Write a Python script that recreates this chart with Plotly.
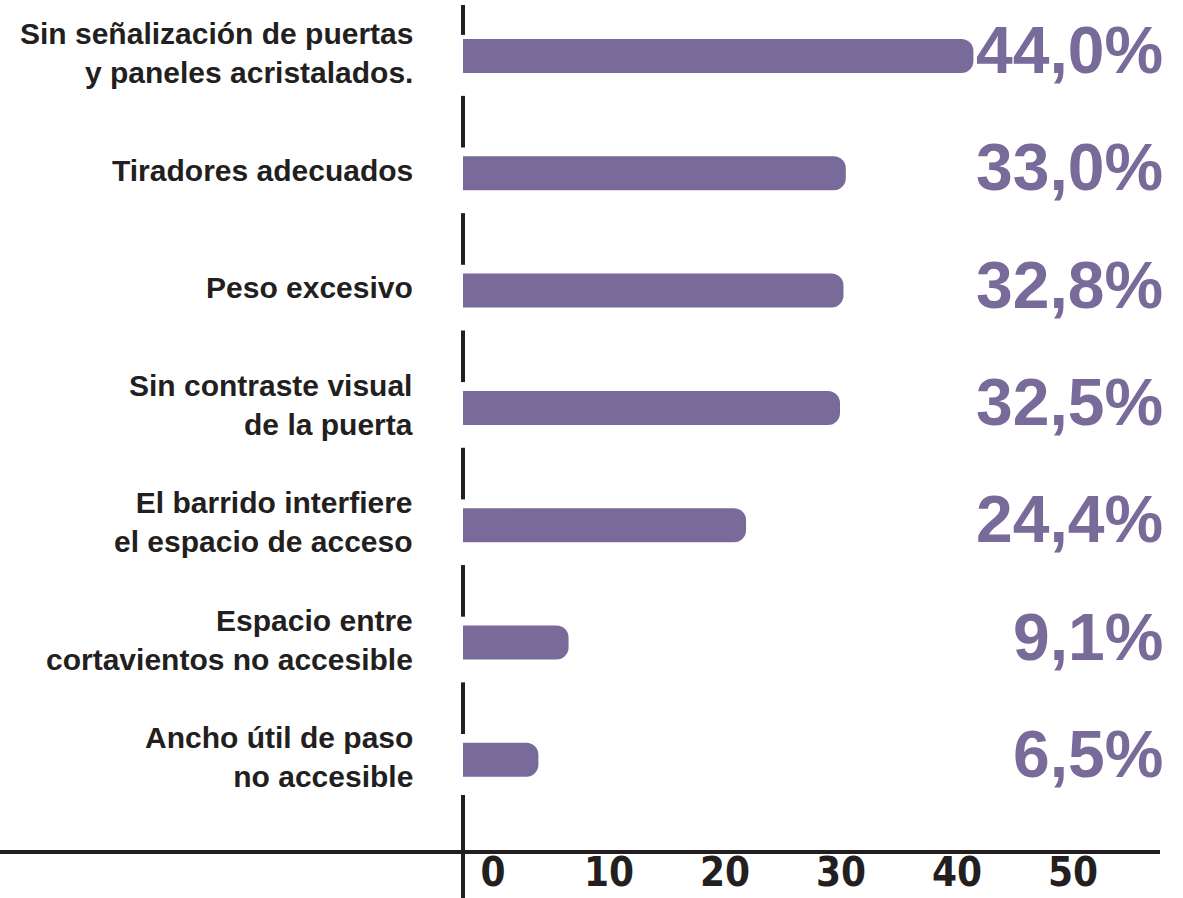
import plotly.graph_objects as go

# Survey results: share of respondents reporting each door accessibility issue
categories = [
    "Sin señalización de puertas<br>y paneles acristalados.",
    "Tiradores adecuados",
    "Peso excesivo",
    "Sin contraste visual<br>de la puerta",
    "El barrido interfiere<br>el espacio de acceso",
    "Espacio entre<br>cortavientos no accesible",
    "Ancho útil de paso<br>no accesible",
]
values = [44.0, 33.0, 32.8, 32.5, 24.4, 9.1, 6.5]
tick_values = [0, 10, 20, 30, 40, 50]

PURPLE = "#786a99"
INK = "#231f20"

# geometry of the canvas (pixels)
FIG_W, FIG_H = 1183, 898
M_R, M_B = 23, 48
PLOT_W = FIG_W - M_R
PLOT_H = FIG_H - M_B
ZERO_PX = 463          # horizontal position of the value-axis origin
PX_PER_UNIT = 11.6
ROW0_PX = 56           # centre of the first row
ROW_PITCH = 117.3

x_range = [-ZERO_PX / PX_PER_UNIT, (PLOT_W - ZERO_PX) / PX_PER_UNIT]
y_range = [(PLOT_H - ROW0_PX) / ROW_PITCH, -ROW0_PX / ROW_PITCH]

idx = list(range(len(categories)))

fig = go.Figure(
    go.Bar(
        x=values,
        y=idx,
        orientation="h",
        width=0.29,
        marker=dict(color=PURPLE, line=dict(width=0)),
        hoverinfo="skip",
    )
)

# Category labels, right-aligned to the left of the axis
for i, cat in enumerate(categories):
    fig.add_annotation(
        x=415 / PLOT_W, xref="paper", y=i, yref="y", yshift=3,
        text=cat, showarrow=False, xanchor="right", align="right",
        font=dict(family="Liberation Sans, Arial, sans-serif", size=30,
                  color=INK, weight="bold"),
    )

# Percentage labels on the right
for i, v in enumerate(values):
    label = f"{v:.1f}".replace(".", ",") + "%"
    fig.add_annotation(
        x=1165 / PLOT_W, xref="paper", y=i, yref="y", yshift=6,
        text=label, showarrow=False, xanchor="right",
        font=dict(family="Liberation Sans, Arial, sans-serif", size=66,
                  color=PURPLE, weight="bold"),
    )

# Broken vertical axis at zero, interrupted around each bar
line_style = dict(color=INK, width=4)
segments = [(-0.435, -0.18)] + [(i + 0.34, i + 0.78) for i in range(len(categories) - 1)]
for y0, y1 in segments:
    fig.add_shape(type="line", xref="x", yref="y", x0=0, x1=0, y0=y0, y1=y1,
                  line=line_style, layer="below")
last_top = (PLOT_H - (ROW0_PX + (len(categories) - 1 + 0.30) * ROW_PITCH)) / PLOT_H
fig.add_shape(type="line", xref="x", yref="paper", x0=0, x1=0,
              y0=last_top, y1=-M_B / PLOT_H, line=line_style, layer="above")

fig.update_layout(
    width=FIG_W, height=FIG_H,
    margin=dict(l=0, r=M_R, t=0, b=M_B),
    paper_bgcolor="white", plot_bgcolor="white",
    showlegend=False,
    barcornerradius=12,
    xaxis=dict(
        range=x_range, showgrid=False, zeroline=False, automargin=False,
        showline=True, linecolor=INK, linewidth=4,
        tickmode="array", tickvals=tick_values,
        ticktext=[str(t) for t in tick_values],
        ticks="", ticklabelshift=30, ticklabelstandoff=-16,
        tickfont=dict(family="Liberation Sans Narrow, DejaVu Sans Condensed, sans-serif",
                      size=40, color=INK, weight="bold"),
        fixedrange=True,
    ),
    yaxis=dict(range=y_range, visible=False, fixedrange=True, automargin=False),
)

fig.write_html("out.html")
